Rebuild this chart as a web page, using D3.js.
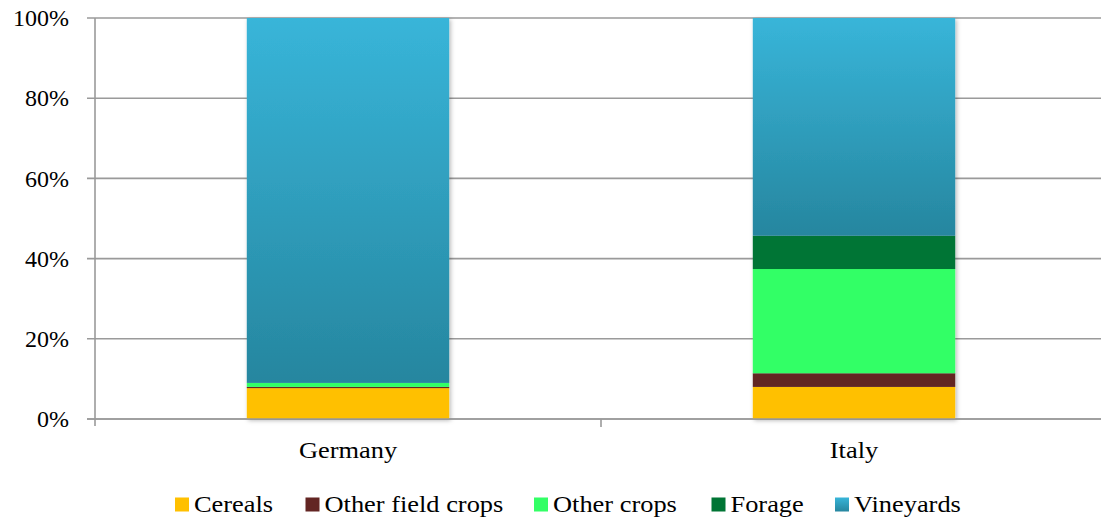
<!DOCTYPE html>
<html>
<head>
<meta charset="utf-8">
<script src="https://cdn.jsdelivr.net/npm/d3@7"></script>
<style>
  html, body { margin: 0; padding: 0; background: #fff; }
  svg { display: block; }
</style>
</head>
<body>
<svg id="chart" width="1101" height="522"></svg>
<script>
// Share of area by crop type, per country (percent)
const countries = ["Germany", "Italy"];
const seriesNames = ["Cereals", "Other field crops", "Other crops", "Forage", "Vineyards"];
const cereals = [7.7, 8.0];
const otherFieldCrops = [0.3, 3.4];
const otherCrops = [1.0, 26.0];
const forage = [0.0, 8.3];
const vineyards = [91.0, 54.3];
const yTicks = [0, 20, 40, 60, 80, 100];
const colors = ["#ffc000", "#632523", "#33ff66", "#007535", "url(#vineGrad)"];

const FONT = "'Liberation Serif', 'DejaVu Serif', serif";
const WIDEN = 1.1; // horizontal stretch for category and legend labels

const seriesValues = [cereals, otherFieldCrops, otherCrops, forage, vineyards];
const rows = countries.map((c, i) => {
  const r = { country: c };
  seriesNames.forEach((s, j) => { r[s] = seriesValues[j][i]; });
  return r;
});

const svg = d3.select("#chart").attr("font-family", FONT);
const margin = { left: 95, right: -6, top: 18, bottom: 103 };
const W = 1101, H = 522;
const plotBottom = H - margin.bottom; // 419

const defs = svg.append("defs");
const grad = defs.append("linearGradient")
  .attr("id", "vineGrad").attr("x1", 0).attr("y1", 0).attr("x2", 0).attr("y2", 1);
grad.append("stop").attr("offset", "0%").attr("stop-color", "#38b5d9");
grad.append("stop").attr("offset", "100%").attr("stop-color", "#26869f");

const shadow = defs.append("filter").attr("id", "barShadow")
  .attr("x", "-10%").attr("y", "-10%").attr("width", "130%").attr("height", "130%");
shadow.append("feDropShadow")
  .attr("dx", 1.5).attr("dy", 1.5).attr("stdDeviation", 2.2)
  .attr("flood-color", "#000").attr("flood-opacity", 0.28);

const x = d3.scaleBand()
  .domain(countries)
  .range([margin.left, W - margin.right])
  .paddingInner(0.6)
  .paddingOuter(0.3);

const y = d3.scaleLinear().domain([0, 100]).range([plotBottom, margin.top]);

// Horizontal gridlines with left ticks
svg.append("g").selectAll("line").data(yTicks).join("line")
  .attr("x1", margin.left - 8).attr("x2", W)
  .attr("y1", d => y(d)).attr("y2", d => y(d))
  .attr("stroke", "#9a9a9a").attr("stroke-width", 1.6);

// Y axis line
svg.append("line")
  .attr("x1", margin.left).attr("x2", margin.left)
  .attr("y1", y(100)).attr("y2", plotBottom + 7)
  .attr("stroke", "#9a9a9a").attr("stroke-width", 1.6);

// Y tick labels
svg.append("g").selectAll("text").data(yTicks).join("text")
  .attr("x", margin.left - 26)
  .attr("y", d => y(d))
  .attr("dy", "0.34em")
  .attr("text-anchor", "end")
  .attr("font-size", 24)
  .text(d => d + "%");

// Stacked bars
const stack = d3.stack().keys(seriesNames)(rows);
const bars = svg.append("g").attr("filter", "url(#barShadow)");
stack.forEach((layer, j) => {
  bars.append("g").attr("fill", colors[j])
    .selectAll("rect").data(layer).join("rect")
    .attr("x", d => x(d.data.country))
    .attr("width", x.bandwidth())
    .attr("y", d => y(d[1]))
    .attr("height", d => Math.max(0, y(d[0]) - y(d[1])));
});

// X axis baseline drawn above bars
svg.append("line")
  .attr("x1", margin.left - 8).attr("x2", W)
  .attr("y1", plotBottom).attr("y2", plotBottom)
  .attr("stroke", "#9a9a9a").attr("stroke-width", 1.6);

// Category boundary ticks
const step = x.step();
const boundaries = countries.slice(1).map(c => x(c) - step * x.paddingInner() / 2);
svg.append("g").selectAll("line").data(boundaries).join("line")
  .attr("x1", d => d).attr("x2", d => d)
  .attr("y1", plotBottom).attr("y2", plotBottom + 8)
  .attr("stroke", "#9a9a9a").attr("stroke-width", 1.6);

// Category labels
svg.append("g").selectAll("text").data(countries).join("text")
  .attr("transform", d => `translate(${x(d) + x.bandwidth() / 2},458) scale(${WIDEN},1)`)
  .attr("text-anchor", "middle")
  .attr("font-size", 24)
  .text(d => d);

// Legend
const legendX = [175, 305.5, 534, 711.5, 835];
const legend = svg.append("g");
seriesNames.forEach((s, j) => {
  const g = legend.append("g").attr("transform", `translate(${legendX[j]},511.5)`);
  g.append("rect").attr("x", 0).attr("y", -14).attr("width", 14).attr("height", 14)
    .attr("fill", colors[j]);
  g.append("text")
    .attr("transform", `translate(19,0) scale(${WIDEN},1)`)
    .attr("font-size", 24).text(s);
});
</script>
</body>
</html>
